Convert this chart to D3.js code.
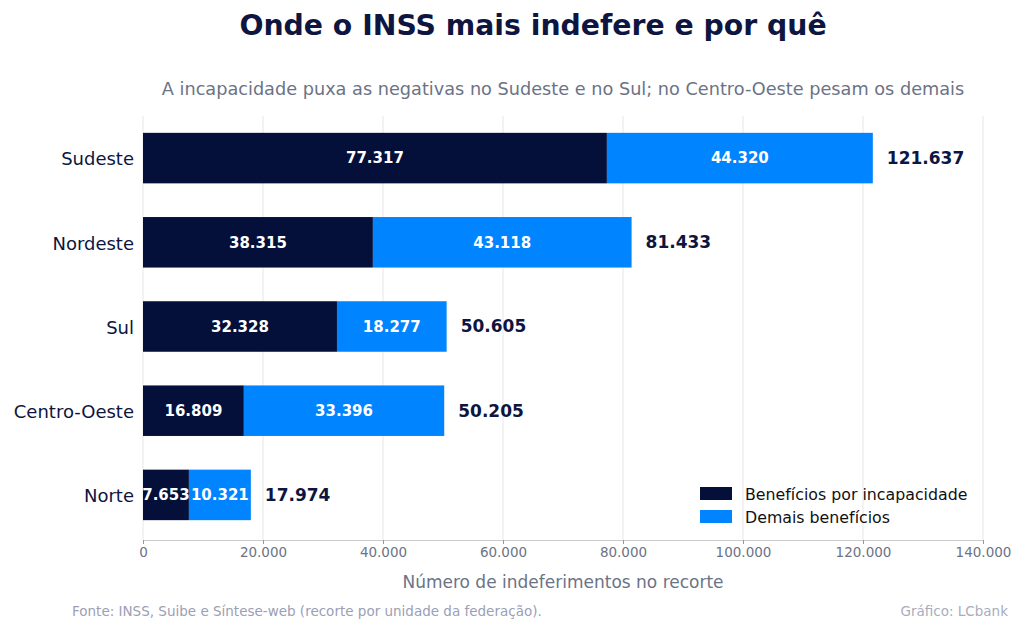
<!DOCTYPE html>
<html><head><meta charset="utf-8">
<script src="https://cdn.jsdelivr.net/npm/d3@7"></script>
<style>body{margin:0;background:#fff;font-family:"DejaVu Sans",sans-serif}</style>
</head><body>
<svg id="c" width="1024" height="636"></svg>
<script>
const regions = ["Sudeste","Nordeste","Sul","Centro-Oeste","Norte"];
const incapacidade = [77317,38315,32328,16809,7653];
const demais = [44320,43118,18277,33396,10321];
const totals = [121637,81433,50605,50205,17974];
const xTicks = [0,20000,40000,60000,80000,100000,120000,140000];
const seriesNames = ["Benefícios por incapacidade","Demais benefícios"];
const colors = ["#04103a","#0084ff"];
const fmt = v => d3.format(",")(v).replace(/,/g,".");

const svg = d3.select("#c");
const x = d3.scaleLinear().domain([0,140000]).range([143,983]);
const y = d3.scaleBand().domain(regions).range([116,537]).paddingInner(0.4).paddingOuter(0.2);
const navy="#0d1540";

svg.append("text").attr("x",533).attr("y",35).attr("text-anchor","middle").attr("font-size",28.3).attr("font-weight","bold").attr("fill",navy).text("Onde o INSS mais indefere e por quê");
svg.append("text").attr("x",563).attr("y",95).attr("text-anchor","middle").attr("font-size",17.7).attr("fill","#6b7385").text("A incapacidade puxa as negativas no Sudeste e no Sul; no Centro-Oeste pesam os demais");

svg.append("g").selectAll("line").data(xTicks).join("line")
 .attr("x1",d=>x(d)).attr("x2",d=>x(d)).attr("y1",116).attr("y2",540).attr("stroke","#e6e7eb").attr("stroke-width",1);

const ax = svg.append("g").attr("transform","translate(0,540)").call(d3.axisBottom(x).tickValues(xTicks).tickFormat(fmt).tickSize(4));
ax.select(".domain").attr("stroke","#ccc");
ax.selectAll(".tick line").attr("stroke","#999");
ax.selectAll("text").attr("font-size",13.5).attr("fill","#6b7385").attr("font-family","DejaVu Sans");

const ay = svg.append("g").attr("transform","translate(143,0)").call(d3.axisLeft(y).tickSize(0).tickPadding(9));
ay.select(".domain").remove();
ay.selectAll("text").attr("font-size",18).attr("fill",navy).attr("font-family","DejaVu Sans").attr("dy","0.4em");

const g = svg.append("g");
regions.forEach((r,i)=>{
  const a=incapacidade[i], b=demais[i];
  g.append("rect").attr("x",x(0)).attr("y",y(r)).attr("width",x(a)-x(0)).attr("height",y.bandwidth()).attr("fill",colors[0]);
  g.append("rect").attr("x",x(a)).attr("y",y(r)).attr("width",x(a+b)-x(a)).attr("height",y.bandwidth()).attr("fill",colors[1]);
  const cy=y(r)+y.bandwidth()/2;
  g.append("text").attr("x",(x(0)+x(a))/2).attr("y",cy).attr("dy","0.35em").attr("text-anchor","middle").attr("font-size",15).attr("font-weight","bold").attr("fill","#fff").text(fmt(a));
  g.append("text").attr("x",(x(a)+x(a+b))/2).attr("y",cy).attr("dy","0.35em").attr("text-anchor","middle").attr("font-size",15).attr("font-weight","bold").attr("fill","#fff").text(fmt(b));
  g.append("text").attr("x",x(totals[i])+14).attr("y",cy).attr("dy","0.35em").attr("font-size",17).attr("font-weight","bold").attr("fill",navy).text(fmt(totals[i]));
});

seriesNames.forEach((n,i)=>{
  const ly=487+i*23;
  svg.append("rect").attr("x",700).attr("y",ly).attr("width",32).attr("height",13).attr("fill",colors[i]);
  svg.append("text").attr("x",745).attr("y",ly+7).attr("dy","0.35em").attr("font-size",15.8).attr("fill","#111").text(n);
});

svg.append("text").attr("x",563).attr("y",588).attr("text-anchor","middle").attr("font-size",17).attr("fill","#6b7385").text("Número de indeferimentos no recorte");
svg.append("text").attr("x",72).attr("y",616).attr("font-size",13.5).attr("fill","#9aa0b5").text("Fonte: INSS, Suibe e Síntese-web (recorte por unidade da federação).");
svg.append("text").attr("x",1008).attr("y",616).attr("text-anchor","end").attr("font-size",13.5).attr("fill","#a8adbd").text("Gráfico: LCbank");
</script>
</body></html>
